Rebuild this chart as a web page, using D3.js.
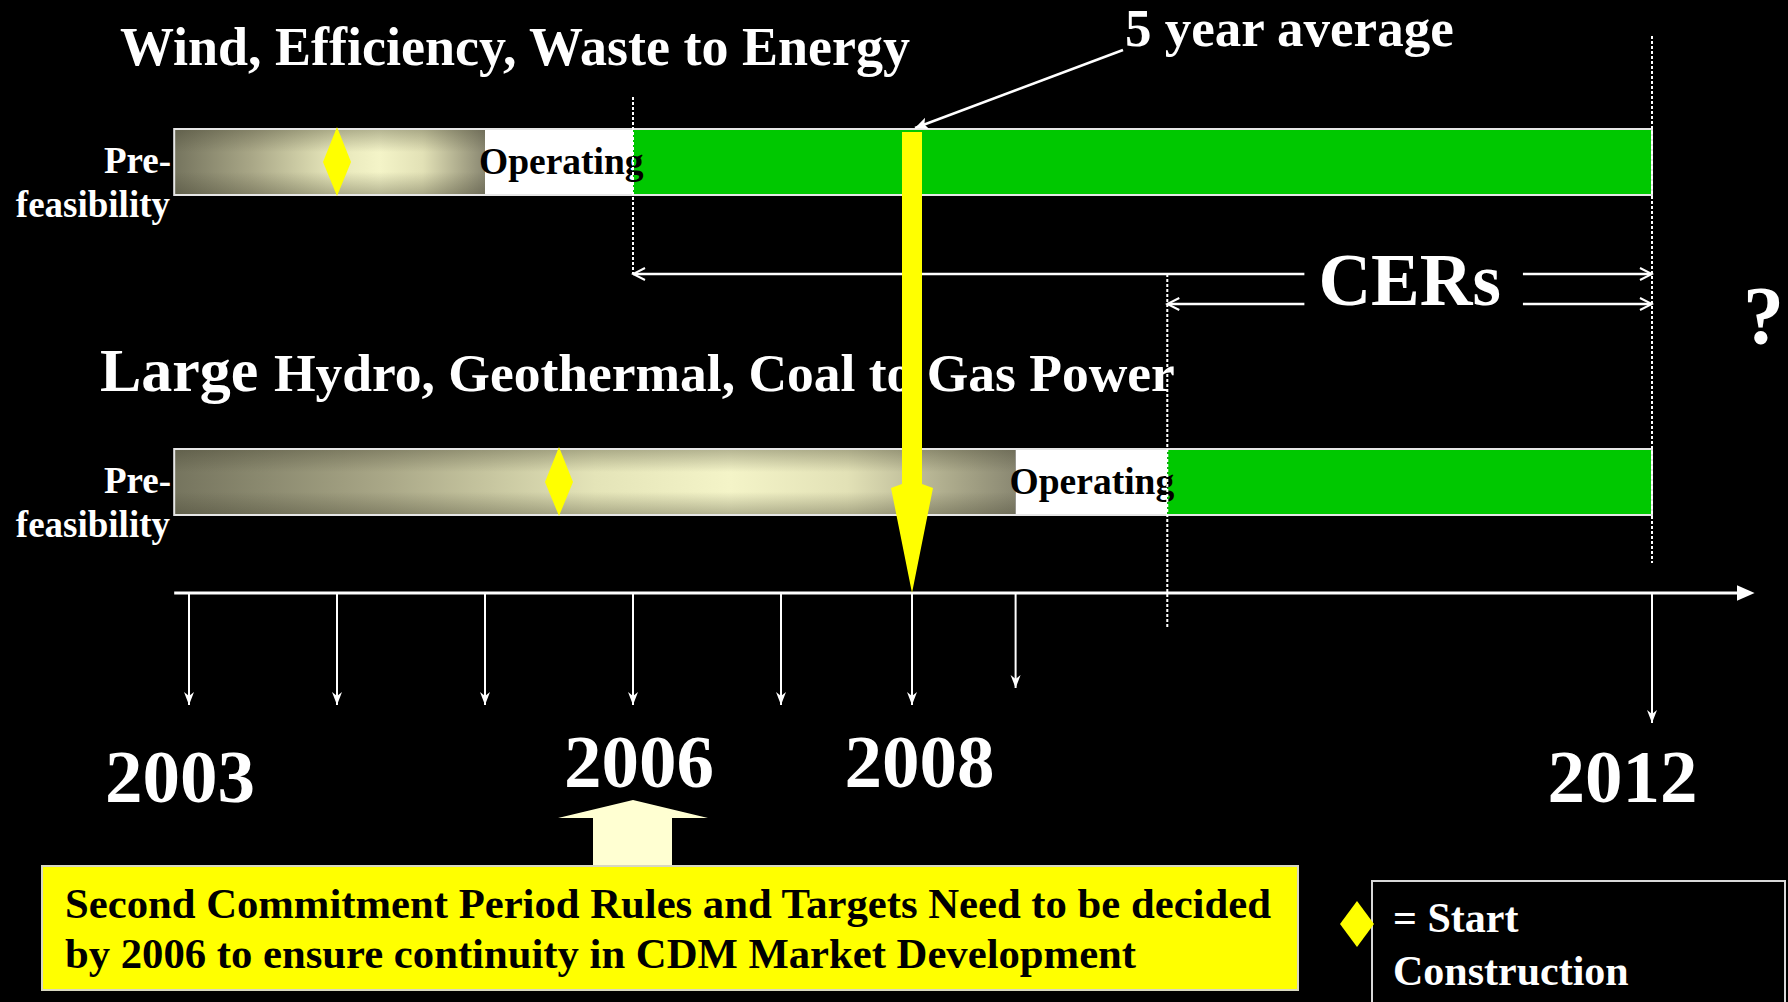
<!DOCTYPE html>
<html>
<head>
<meta charset="utf-8">
<script src="https://cdn.jsdelivr.net/npm/d3@7"></script>
<style>
  html, body { margin: 0; padding: 0; background: #000; overflow: hidden; }
  svg { display: block; }
  text { font-family: "Liberation Serif", "Times New Roman", serif; font-weight: bold; }
</style>
</head>
<body>
<svg id="chart" width="1788" height="1002"></svg>
<script>
// project tracks
var trackLead = ["", "Large"];
var trackTitles = ["Wind, Efficiency, Waste to Energy", "Hydro, Geothermal, Coal to Gas Power"];
var preStart = [2002.9, 2002.9];
var constructionStart = [2004, 2005.5];
var operatingStart = [2005, 2008.56];
var creditStart = [2006, 2009.38];
var creditEnd = [2012, 2012];

// timeline
var tickYears = [2003, 2004, 2005, 2006, 2007, 2008, 2008.56, 2012];
var yearLabels = ["2003", "2006", "2008", "2012"];
var yearLabelAt = [2002.94, 2006.04, 2008.04, 2011.84];
var axisEnd = 2012.56;
var averageYear = 2008;
var decisionYear = 2006;

var noteLines = ["Second Commitment Period Rules and Targets Need to be decided",
                 "by 2006 to ensure continuity in CDM Market Development"];
var legendLines = ["= Start", "Construction"];

var svg = d3.select("#chart"),
    barH = 66,
    axisY = 593;

// the slide's time axis is not evenly spaced
var x = d3.scaleLinear()
    .domain([2003, 2007, 2008, 2012])
    .range([189, 781, 912, 1652]);

var y = d3.scalePoint()
    .domain([0, 1])
    .range([129, 449]);

var defs = svg.append("defs");

var grad = defs.append("linearGradient").attr("id", "pre");
[[0, "#75745e"], [0.25, "#a9a787"], [0.5, "#e4e4b8"], [0.66, "#f4f4c8"], [0.8, "#e2e1b6"], [0.93, "#a9a789"], [1, "#8a8872"]]
  .forEach(function (s) {
    grad.append("stop").attr("offset", s[0]).attr("stop-color", s[1]);
  });
var shade = defs.append("linearGradient").attr("id", "shade")
    .attr("x1", 0).attr("y1", 0).attr("x2", 0).attr("y2", 1);
[[0, 0.35], [0.35, 0], [0.65, 0], [1, 0.35]].forEach(function (s) {
  shade.append("stop").attr("offset", s[0]).attr("stop-color", "#3c3b2a").attr("stop-opacity", s[1]);
});

defs.append("marker").attr("id", "chev")
    .attr("viewBox", "-1 -8 15 16").attr("refX", 12).attr("refY", 0)
    .attr("markerWidth", 15).attr("markerHeight", 16)
    .attr("markerUnits", "userSpaceOnUse").attr("orient", "auto-start-reverse")
  .append("path").attr("d", "M0,-6L12,0L0,6").attr("fill", "none")
    .attr("stroke", "#fff").attr("stroke-width", 2);

defs.append("marker").attr("id", "tickHead")
    .attr("viewBox", "0 -6 14 12").attr("refX", 13).attr("refY", 0)
    .attr("markerWidth", 14).attr("markerHeight", 12)
    .attr("markerUnits", "userSpaceOnUse").attr("orient", "auto")
  .append("path").attr("d", "M0,-5L13,0L0,5L4,0Z").attr("fill", "#fff");

defs.append("marker").attr("id", "axisHead")
    .attr("viewBox", "0 -9 18 18").attr("refX", 2).attr("refY", 0)
    .attr("markerWidth", 18).attr("markerHeight", 18)
    .attr("markerUnits", "userSpaceOnUse").attr("orient", "auto")
  .append("path").attr("d", "M0,-8L18,0L0,8Z").attr("fill", "#fff");

defs.append("marker").attr("id", "leadHead")
    .attr("viewBox", "0 -7 14 14").attr("refX", 13).attr("refY", 0)
    .attr("markerWidth", 14).attr("markerHeight", 14)
    .attr("markerUnits", "userSpaceOnUse").attr("orient", "auto")
  .append("path").attr("d", "M0,-6L13,0L0,6L3,0Z").attr("fill", "#fff");

// titles
var titleX = [120, 100];
var titleY = [65, 391];
var titleSize = [54, 53.5];
trackTitles.forEach(function (t, i) {
  var tx = svg.append("text")
      .attr("x", titleX[i]).attr("y", titleY[i])
      .attr("fill", "#fff").attr("font-size", titleSize[i]);
  if (trackLead[i]) tx.append("tspan").attr("font-size", 62).text(trackLead[i] + " ");
  tx.append("tspan").text(t);
});

// bars
var tracks = d3.range(trackTitles.length);
var bar = svg.selectAll("g.track")
    .data(tracks)
    .enter().append("g")
    .attr("class", "track")
    .attr("transform", function (i) { return "translate(0," + y(i) + ")"; });

bar.append("rect")
    .attr("x", function (i) { return x(preStart[i]); })
    .attr("width", function (i) { return x(operatingStart[i]) - x(preStart[i]); })
    .attr("height", barH)
    .attr("fill", "url(#pre)");
bar.append("rect")
    .attr("x", function (i) { return x(preStart[i]); })
    .attr("width", function (i) { return x(operatingStart[i]) - x(preStart[i]); })
    .attr("height", barH)
    .attr("fill", "url(#shade)");
bar.append("rect")
    .attr("x", function (i) { return x(operatingStart[i]); })
    .attr("width", function (i) { return x(creditStart[i]) - x(operatingStart[i]); })
    .attr("height", barH)
    .attr("fill", "#fff");
bar.append("rect")
    .attr("x", function (i) { return x(creditStart[i]); })
    .attr("width", function (i) { return x(creditEnd[i]) - x(creditStart[i]); })
    .attr("height", barH)
    .attr("fill", "#00c800");
bar.append("rect")
    .attr("x", function (i) { return x(preStart[i]); })
    .attr("width", function (i) { return x(creditEnd[i]) - x(preStart[i]); })
    .attr("height", barH)
    .attr("fill", "none")
    .attr("stroke", "#e6e6e6").attr("stroke-width", 2);

bar.append("path")
    .attr("d", function (i) {
      var cx = x(constructionStart[i]);
      return "M" + cx + ",-2L" + (cx + 14) + "," + (barH / 2) + "L" + cx + "," + (barH + 1) + "L" + (cx - 14) + "," + (barH / 2) + "Z";
    })
    .attr("fill", "#ffff00");

bar.append("text")
    .attr("x", 171).attr("y", 44)
    .attr("text-anchor", "end").attr("fill", "#fff").attr("font-size", 37)
    .text("Pre-");
bar.append("text")
    .attr("x", 170).attr("y", 88)
    .attr("text-anchor", "end").attr("fill", "#fff").attr("font-size", 37)
    .text("feasibility");
bar.append("text")
    .attr("x", function (i) { return x(operatingStart[i]) - 6; })
    .attr("y", 45)
    .attr("fill", "#000").attr("font-size", 37.5)
    .text("Operating");

// dotted guides
var guides = [
  [x(creditStart[0]), 97, 274],
  [x(creditStart[1]), 274, 628],
  [x(creditEnd[0]), 36, 563]
];
svg.selectAll("line.guide")
    .data(guides)
    .enter().append("line")
    .attr("class", "guide")
    .attr("x1", function (d) { return d[0]; }).attr("x2", function (d) { return d[0]; })
    .attr("y1", function (d) { return d[1]; }).attr("y2", function (d) { return d[2]; })
    .attr("stroke", "#fff").attr("stroke-width", 2).attr("stroke-dasharray", "3,2");

// CER span arrows
var cerMid = (x(creditStart[1]) + x(creditEnd[1])) / 2;
var cer = svg.append("text")
    .attr("x", cerMid).attr("y", 305)
    .attr("text-anchor", "middle").attr("fill", "#fff").attr("font-size", 73)
    .text("CERs");
var bb = cer.node().getBBox();
var gapL = bb.x - 14, gapR = bb.x + bb.width + 22;
var spans = [[x(creditStart[0]), 274], [x(creditStart[1]), 304]];
spans.forEach(function (s, i) {
  svg.append("line")
      .attr("x1", gapL).attr("x2", s[0]).attr("y1", s[1]).attr("y2", s[1])
      .attr("stroke", "#fff").attr("stroke-width", 2.5).attr("marker-end", "url(#chev)");
  svg.append("line")
      .attr("x1", gapR).attr("x2", x(creditEnd[i])).attr("y1", s[1]).attr("y2", s[1])
      .attr("stroke", "#fff").attr("stroke-width", 2.5).attr("marker-end", "url(#chev)");
});

svg.append("text")
    .attr("x", 1743).attr("y", 343)
    .attr("fill", "#fff").attr("font-size", 82)
    .text("?");

// 5 year average callout
svg.append("text")
    .attr("x", 1125).attr("y", 46)
    .attr("fill", "#fff").attr("font-size", 53)
    .text("5 year average");
svg.append("line")
    .attr("x1", 1123).attr("y1", 50)
    .attr("x2", x(averageYear) + 3).attr("y2", y(0) - 1)
    .attr("stroke", "#fff").attr("stroke-width", 2.5)
    .attr("marker-end", "url(#leadHead)");

// time axis
svg.append("line")
    .attr("x1", x(preStart[0])).attr("x2", x(axisEnd) - 17)
    .attr("y1", axisY).attr("y2", axisY)
    .attr("stroke", "#fff").attr("stroke-width", 3)
    .attr("marker-end", "url(#axisHead)");

svg.selectAll("line.tick")
    .data(tickYears)
    .enter().append("line")
    .attr("class", "tick")
    .attr("x1", function (d) { return x(d); }).attr("x2", function (d) { return x(d); })
    .attr("y1", axisY)
    .attr("y2", function (d, i) {
      if (i === tickYears.length - 1) return axisY + 130;
      return d % 1 ? axisY + 95 : axisY + 112;
    })
    .attr("stroke", "#fff").attr("stroke-width", 2)
    .attr("marker-end", "url(#tickHead)");

var labelLift = [0, 15, 15, 0];
svg.selectAll("text.year")
    .data(yearLabels)
    .enter().append("text")
    .attr("class", "year")
    .attr("x", function (d, i) { return x(yearLabelAt[i]); })
    .attr("y", function (d, i) { return 802 - labelLift[i]; })
    .attr("text-anchor", "middle").attr("fill", "#fff").attr("font-size", 75)
    .text(function (d) { return d; });

// 5 year average arrow
var ax = x(averageYear);
svg.append("path")
    .attr("d", "M" + (ax - 10) + "," + (y(0) + 3) + "L" + (ax + 10) + "," + (y(0) + 3) +
               "L" + (ax + 10) + ",484L" + (ax + 21) + ",488L" + ax + "," + axisY +
               "L" + (ax - 21) + ",488L" + (ax - 10) + ",484Z")
    .attr("fill", "#ffff00");

// decision arrow and note
var dx = x(decisionYear);
svg.append("path")
    .attr("d", "M" + dx + ",800L" + (dx + 75) + ",818L" + (dx + 39) + ",818L" + (dx + 39) + ",867L" +
               (dx - 40) + ",867L" + (dx - 40) + ",818L" + (dx - 75) + ",818Z")
    .attr("fill", "#ffffd2");

svg.append("rect")
    .attr("x", 42).attr("y", 866).attr("width", 1256).attr("height", 124)
    .attr("fill", "#ffff00").attr("stroke", "#d8d8c0").attr("stroke-width", 2);
svg.selectAll("text.note")
    .data(noteLines)
    .enter().append("text")
    .attr("class", "note")
    .attr("x", 65).attr("y", function (d, i) { return 918 + i * 50; })
    .attr("fill", "#000").attr("font-size", 42.7)
    .text(function (d) { return d; });

// legend
svg.append("rect")
    .attr("x", 1372).attr("y", 881).attr("width", 413).attr("height", 140)
    .attr("fill", "#000").attr("stroke", "#d8d8d8").attr("stroke-width", 2);
svg.append("path")
    .attr("d", "M1357,901L1374,924L1357,947L1340,924Z")
    .attr("fill", "#ffff00");
svg.selectAll("text.legend")
    .data(legendLines)
    .enter().append("text")
    .attr("class", "legend")
    .attr("x", 1393).attr("y", function (d, i) { return 932 + i * 53; })
    .attr("fill", "#fff").attr("font-size", 42)
    .text(function (d) { return d; });
</script>
</body>
</html>
